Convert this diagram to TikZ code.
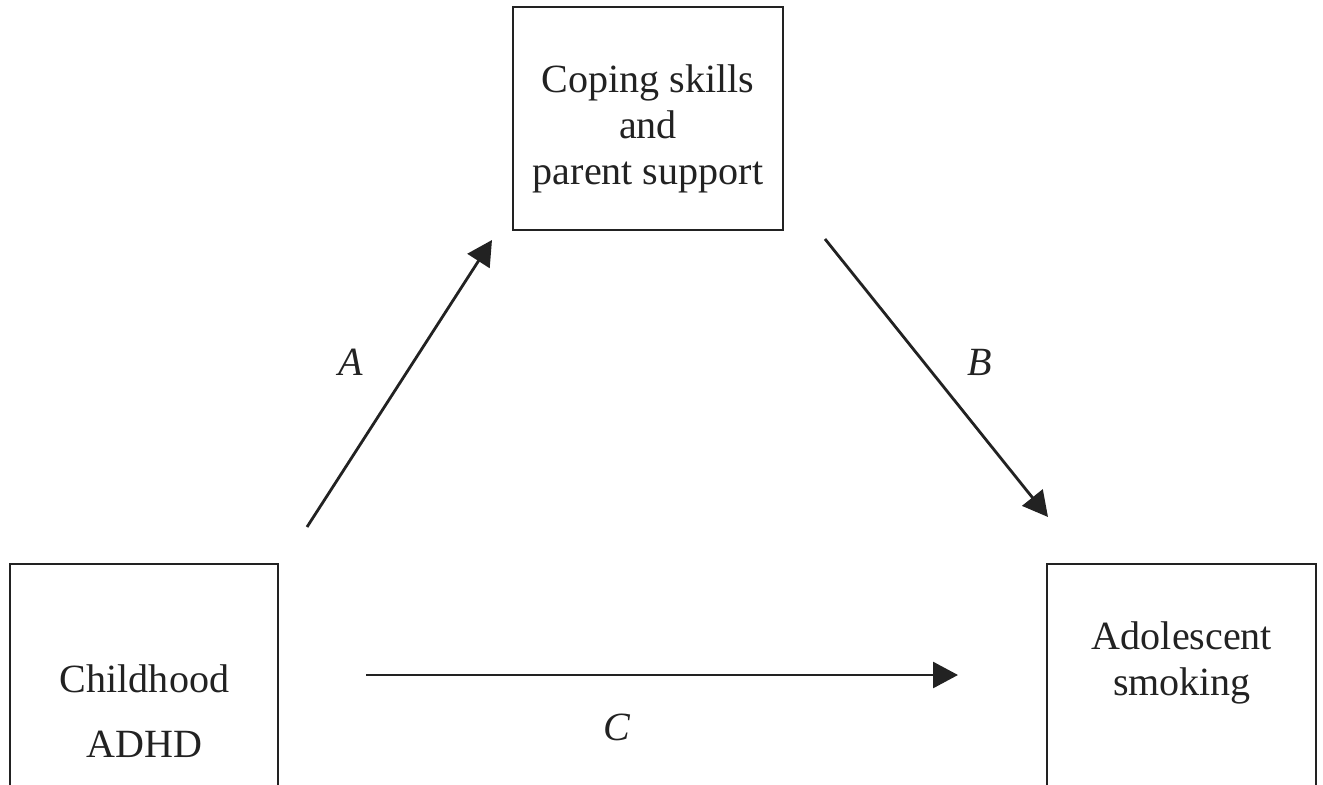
\documentclass[tikz,border=0pt]{standalone}
\usepackage{fontspec}
\setmainfont{Liberation Serif}
\usetikzlibrary{arrows.meta,positioning}
\definecolor{inkgray}{HTML}{222222}
\tikzset{
	box/.style={rectangle,draw=inkgray,line width=1.4pt,inner sep=0pt},
	boxtext/.style={align=center,inner sep=0pt,text=inkgray,font=\fontsize{22.8pt}{26.2pt}\selectfont},
	diredge/.style={-{Triangle[width=0.52cm,length=0.5cm]},color=inkgray,line width=1.6pt},
	pathlabel/.style={inner sep=0pt,text=inkgray,font=\fontsize{22.8pt}{26.2pt}\selectfont\itshape}
}
\begin{document}
\begin{tikzpicture}[x=0.02cm,y=-0.02cm]
	\useasboundingbox (0,0) rectangle (1323,785);
	%%% boxes
	\node[box,minimum width=5.4cm,minimum height=4.46cm] (cope) at (648,118.5) {};
	\node[box,anchor=north,minimum width=5.36cm,minimum height=5.6cm] (adhd) at (144,563) {};
	\node[box,anchor=north,minimum width=5.38cm,minimum height=5.6cm] (smoke) at (1181.5,563) {};
	
	%%% box texts
	\node[boxtext] (copetext) at (648,129) {Coping skills\\and\\parent support};
	\node[boxtext] (adhdtext) at (144.5,711) {Childhood\\[0.38cm]ADHD};
	\node[boxtext] (smoketext) at (1182,662.5) {Adolescent\\smoking};
	
	%%% arrow ends
	\coordinate (a0) at (307,527);
	\coordinate (a1) at (492,240);
	\coordinate (b0) at (825,239);
	\coordinate (b1) at (1048,517);
	\coordinate (c0) at (366,675);
	\coordinate (c1) at (958,675);
	
	\draw[diredge] (a0) -- (a1);
	\draw[diredge] (b0) -- (b1);
	\draw[diredge] (c0) -- (c1);
	
	%%% path labels
	\node[pathlabel] (A) at (351,362) {A};
	\node[pathlabel] (B) at (980,362) {B};
	\node[pathlabel] (C) at (617,727) {C};
\end{tikzpicture}
\end{document}
